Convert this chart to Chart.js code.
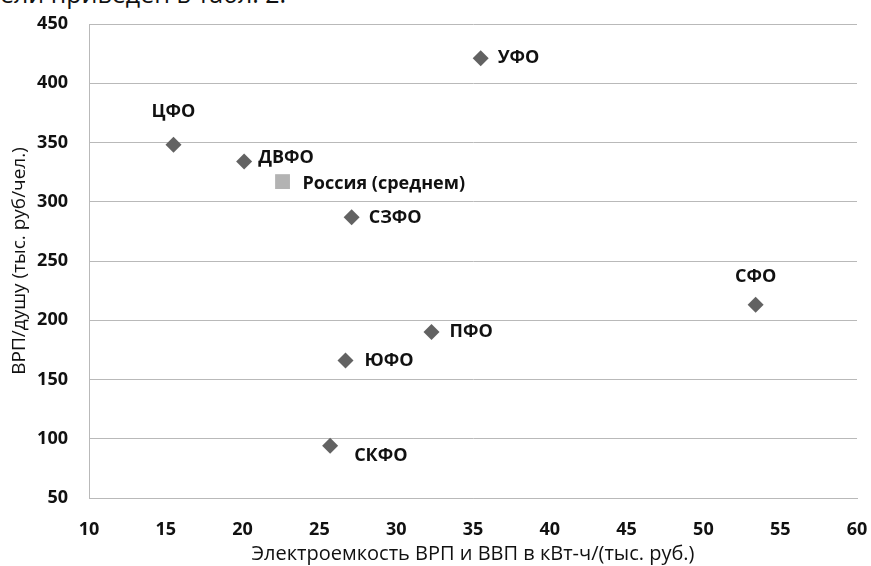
<!DOCTYPE html>
<html lang="ru">
<head>
<meta charset="utf-8">
<title>ВРП на душу и электроемкость</title>
<script src="https://cdn.jsdelivr.net/npm/chart.js@4.4.1/dist/chart.umd.min.js"></script>
<style>
  html, body { margin: 0; padding: 0; background: #fff; }
  #wrap { position: relative; width: 871px; height: 566px; overflow: hidden; }
  #note {
    position: absolute; left: 0; top: -24px;
    font: 25px "Open Sans", sans-serif; color: #111; white-space: nowrap;
  }
  canvas { position: absolute; left: 0; top: 0; }
</style>
</head>
<body>
<div id="wrap">
  <div id="note">ели приведен в табл. 2.</div>
  <canvas id="chart" width="871" height="566"></canvas>
</div>
<script>
// Федеральные округа: электроемкость (x) и ВРП на душу (y)
const regions = ["ЦФО", "ДВФО", "УФО", "СЗФО", "СФО", "ПФО", "ЮФО", "СКФО"];
const regionX = [15.5, 20.1, 35.5, 27.1, 53.4, 32.3, 26.7, 25.7];
const regionY = [348, 334, 421, 287, 213, 190, 166, 94];

const russiaLabel = "Россия (среднем)";
const russiaX = [22.6];
const russiaY = [317];

const xTicks = [10, 15, 20, 25, 30, 35, 40, 45, 50, 55, 60];
const yTicks = [50, 100, 150, 200, 250, 300, 350, 400, 450];

const xTitle = "Электроемкость ВРП и ВВП в кВт-ч/(тыс. руб.)";
const yTitle = "ВРП/душу (тыс. руб/чел.)";

const FONT = "'Open Sans', sans-serif";
const GRID = "#b9b9b9";

// где рисовать подпись относительно точки
const LABEL_PLACE = {
  "ЦФО": { dx: 0, dy: -33, align: "center" },
  "ДВФО": { dx: 14, dy: -4, align: "left" },
  "УФО": { dx: 17, dy: 0, align: "left" },
  "СЗФО": { dx: 17, dy: 1, align: "left" },
  "СФО": { dx: 0, dy: -28, align: "center" },
  "ПФО": { dx: 18, dy: 0, align: "left" },
  "ЮФО": { dx: 19, dy: 0, align: "left" },
  "СКФО": { dx: 24, dy: 10, align: "left" },
  "Россия (среднем)": { dx: 20, dy: 2, align: "left" },
};

const toPoints = (xs, ys) => xs.map((x, i) => ({ x, y: ys[i] }));

// подписи не должны сдвигать область графика
const noOverflow = (s) => {
  s.paddingTop = 0;
  s.paddingBottom = 0;
  s.paddingLeft = 0;
  s.paddingRight = 0;
};

const pointLabels = {
  id: "pointLabels",
  afterDatasetsDraw(chart) {
    const ctx = chart.ctx;
    ctx.save();
    ctx.fillStyle = "#111";
    ctx.font = "bold 18px " + FONT;
    ctx.textBaseline = "middle";
    chart.data.datasets.forEach((ds, di) => {
      chart.getDatasetMeta(di).data.forEach((el, i) => {
        const name = ds.names[i];
        const p = LABEL_PLACE[name] || { dx: 14, dy: 0, align: "left" };
        ctx.textAlign = p.align;
        ctx.fillText(name, el.x + p.dx, el.y + p.dy);
      });
    });
    ctx.restore();
  },
};

new Chart(document.getElementById("chart"), {
  type: "scatter",
  data: {
    datasets: [
      {
        label: "Округа",
        names: regions,
        data: toPoints(regionX, regionY),
        pointStyle: "rectRot",
        radius: 8,
        hoverRadius: 8,
        backgroundColor: "#626262",
        borderColor: "#626262",
        borderWidth: 0,
      },
      {
        label: russiaLabel,
        names: [russiaLabel],
        data: toPoints(russiaX, russiaY),
        pointStyle: "rect",
        radius: 10.5,
        hoverRadius: 10.5,
        backgroundColor: "#b3b3b3",
        borderColor: "#b3b3b3",
        borderWidth: 0,
      },
    ],
  },
  options: {
    responsive: false,
    animation: false,
    layout: { padding: { left: 0, right: 14, top: 24, bottom: 0 } },
    plugins: {
      legend: { display: false },
      tooltip: { enabled: false },
    },
    scales: {
      x: {
        type: "linear",
        min: xTicks[0],
        max: xTicks[xTicks.length - 1],
        afterBuildTicks: (s) => { s.ticks = xTicks.map((v) => ({ value: v })); },
        afterFit: (s) => { s.height = 68; noOverflow(s); },
        grid: { display: false },
        border: { display: true, color: GRID, width: 1 },
        ticks: { color: "#111", padding: 13, font: { family: FONT, size: 18, weight: "bold" } },
        title: {
          display: true,
          text: xTitle,
          color: "#111",
          padding: { top: 4, bottom: 0 },
          font: { family: FONT, size: 20 },
        },
      },
      y: {
        type: "linear",
        min: yTicks[0],
        max: yTicks[yTicks.length - 1],
        afterBuildTicks: (s) => { s.ticks = yTicks.map((v) => ({ value: v })); },
        afterFit: (s) => { s.width = 89; noOverflow(s); },
        grid: { color: GRID, lineWidth: 1, drawTicks: false },
        border: { display: true, color: GRID, width: 1 },
        ticks: { color: "#111", padding: 21, font: { family: FONT, size: 18, weight: "bold" } },
        title: {
          display: true,
          text: yTitle,
          color: "#111",
          padding: { top: 8, bottom: 0 },
          font: { family: FONT, size: 19 },
        },
      },
    },
  },
  plugins: [pointLabels],
});
</script>
</body>
</html>
